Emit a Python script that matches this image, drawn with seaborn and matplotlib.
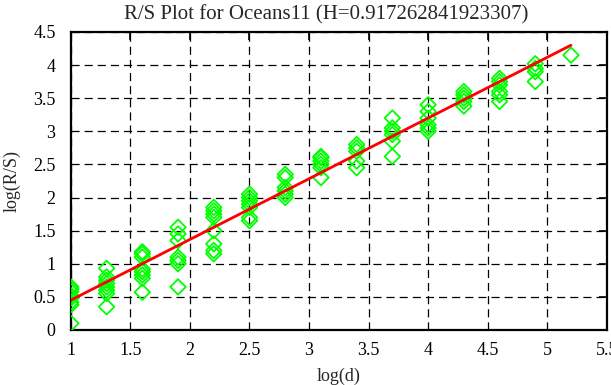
import pandas as pd
import numpy as np
import matplotlib
matplotlib.use('Agg')
import matplotlib.pyplot as plt
import seaborn as sns

# log(d) columns and the log(R/S) values
log_d = [1.0, 1.3, 1.6, 1.9, 2.2, 2.5, 2.8, 3.1, 3.4, 3.7, 4.0, 4.3, 4.6, 4.9, 5.2]
log_rs = [
    [0.10, 0.38, 0.42, 0.48, 0.52, 0.58, 0.62, 0.65],
    [0.35, 0.55, 0.60, 0.65, 0.70, 0.75, 0.80, 0.93],
    [0.57, 0.78, 0.83, 0.88, 0.92, 1.10, 1.15, 1.18],
    [0.65, 1.00, 1.05, 1.10, 1.35, 1.45, 1.55],
    [1.15, 1.20, 1.30, 1.50, 1.70, 1.75, 1.80, 1.85],
    [1.65, 1.70, 1.85, 1.90, 1.95, 2.00, 2.05],
    [2.00, 2.05, 2.10, 2.15, 2.30, 2.35],
    [2.30, 2.45, 2.50, 2.55, 2.60, 2.62],
    [2.45, 2.55, 2.70, 2.75, 2.80],
    [2.62, 2.85, 2.95, 3.00, 3.05, 3.20],
    [3.00, 3.05, 3.10, 3.20, 3.30, 3.40],
    [3.38, 3.45, 3.50, 3.55, 3.60],
    [3.45, 3.55, 3.60, 3.70, 3.75, 3.80],
    [3.75, 3.90, 3.95, 4.02],
    [4.15],
]
# fitted line end points
fit_x = [1.0, 5.2]
fit_y = [0.45, 4.30]
hurst = 0.917262841923307

rows = []
for x, ys in zip(log_d, log_rs):
    for y in ys:
        rows.append({'log_d': x, 'log_rs': y})
df = pd.DataFrame(rows)
fit = pd.DataFrame({'log_d': fit_x, 'log_rs': fit_y})

sns.set_style('white')
plt.rcParams['font.family'] = ['Liberation Serif', 'DejaVu Serif']
plt.rcParams['font.size'] = 13

fig = plt.figure(figsize=(6.11, 3.85), dpi=100)
ax = fig.add_axes([0.116, 0.143, 0.877, 0.774])

sns.scatterplot(data=df, x='log_d', y='log_rs', marker='D', s=62,
                facecolor='none', edgecolor='#00ff00', linewidth=1.3, ax=ax, zorder=3)
sns.lineplot(data=fit, x='log_d', y='log_rs', color='#ff0000', linewidth=2, ax=ax, zorder=4)

ax.set_xlim(1, 5.5)
ax.set_ylim(0, 4.5)
ax.set_xticks(np.arange(1, 5.51, 0.5))
ax.set_yticks(np.arange(0, 4.51, 0.5))
ax.set_xticklabels(['1', '1.5', '2', '2.5', '3', '3.5', '4', '4.5', '5', '5.5'])
ax.set_yticklabels(['0', '0.5', '1', '1.5', '2', '2.5', '3', '3.5', '4', '4.5'])
ax.grid(True, color='black', linestyle=(0, (6.5, 4)), linewidth=0.9)
ax.tick_params(direction='in', length=6, width=1.2, top=True, right=True,
               labelsize=13, colors='black')
ax.tick_params(axis='x', pad=9)
ax.tick_params(axis='y', pad=11)
for sp in ax.spines.values():
    sp.set_linewidth(1.6)
    sp.set_color('black')

ax.set_xlabel('log(d)', fontsize=13, labelpad=6)
ax.set_ylabel('log(R/S)', fontsize=13, labelpad=9)
ax.set_title(f'R/S Plot for Oceans11 (H={hurst})', fontsize=15, pad=9, x=0.476)

plt.savefig('out.png', dpi=100)
